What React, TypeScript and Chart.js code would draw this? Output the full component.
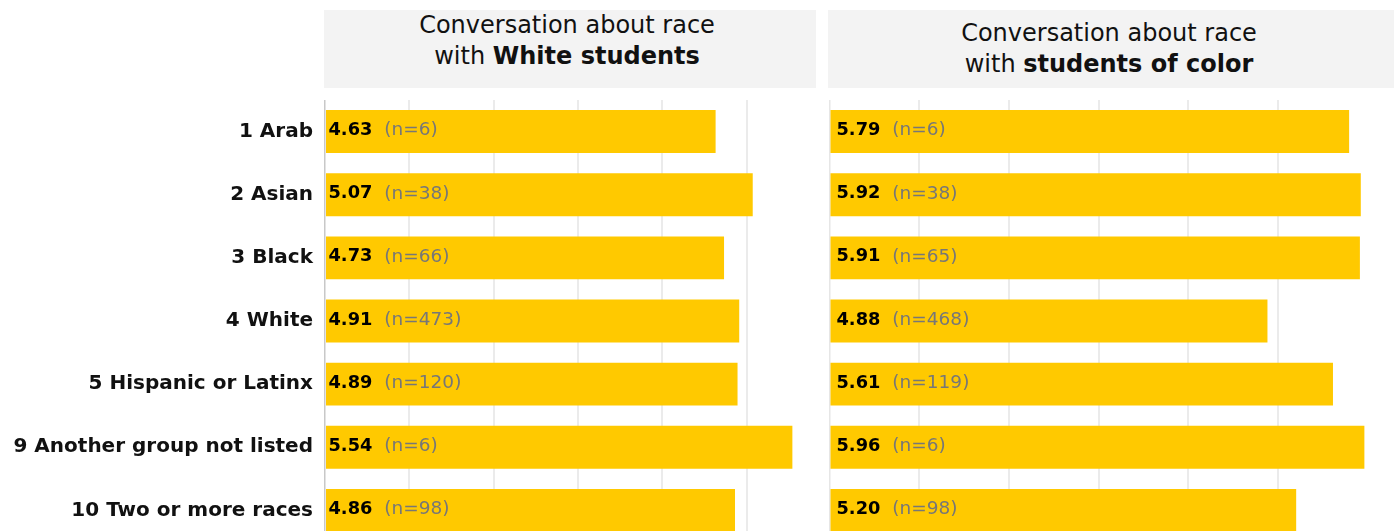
import React, { useEffect, useRef } from 'react';
import { Chart, registerables } from 'chart.js';

Chart.register(...registerables);

const categories = [
  '1 Arab',
  '2 Asian',
  '3 Black',
  '4 White',
  '5 Hispanic or Latinx',
  '9 Another group not listed',
  '10 Two or more races',
];
const whiteValues = [4.63, 5.07, 4.73, 4.91, 4.89, 5.54, 4.86];
const whiteCounts = [6, 38, 66, 473, 120, 6, 98];
const colorValues = [5.79, 5.92, 5.91, 4.88, 5.61, 5.96, 5.2];
const colorCounts = [6, 38, 65, 468, 119, 6, 98];
const leftAxisMax = 5.82;
const rightAxisMax = 6.29;

const FONT = '"DejaVu Sans", Verdana, sans-serif';
const BAR_COLOR = '#FFC900';

function labelPlugin(counts: number[], padLeft: number) {
  return {
    id: 'valueLabels',
    afterDatasetsDraw(chart: any) {
      const ctx = chart.ctx;
      const meta = chart.getDatasetMeta(0);
      const data = chart.data.datasets[0].data as number[];
      ctx.save();
      ctx.textBaseline = 'middle';
      ctx.textAlign = 'left';
      meta.data.forEach((el: any, i: number) => {
        const x = chart.chartArea.left + padLeft;
        const y = el.y - 1;
        const s = data[i].toFixed(2);
        ctx.font = `bold 17.8px ${FONT}`;
        ctx.fillStyle = '#000';
        ctx.fillText(s, x, y);
        const w = ctx.measureText(s).width;
        ctx.font = `18.5px ${FONT}`;
        ctx.fillStyle = '#777';
        ctx.fillText(`(n=${counts[i]})`, x + w + 12, y);
      });
      ctx.restore();
    },
  };
}

function buildConfig(
  values: number[],
  counts: number[],
  max: number,
  showLabels: boolean,
  axisWidth: number,
  axisDash: number[],
  axisColor: string,
  padLeft: number
): any {
  return {
    type: 'bar',
    data: {
      labels: categories,
      datasets: [
        {
          data: values,
          backgroundColor: BAR_COLOR,
          borderWidth: 0,
          barPercentage: 0.68,
          categoryPercentage: 1,
        },
      ],
    },
    options: {
      indexAxis: 'y',
      responsive: false,
      maintainAspectRatio: false,
      animation: false,
      layout: { padding: 0 },
      plugins: {
        legend: { display: false },
        tooltip: { enabled: false },
        title: { display: false },
      },
      scales: {
        x: {
          min: 0,
          max,
          ticks: { display: false, stepSize: 1 },
          grid: {
            color: (c: any) =>
              c.tick && c.tick.value === 0 ? 'rgba(0,0,0,0)' : '#ebebeb',
            lineWidth: 2,
            drawTicks: false,
          },
          border: { display: false },
          afterBuildTicks: (s: any) => {
            s.ticks = s.ticks.filter((t: any) => Number.isInteger(t.value));
          },
          afterFit: (s: any) => {
            s.height = 0;
            s.paddingLeft = 0;
            s.paddingRight = 0;
            s.paddingTop = 0;
            s.paddingBottom = 0;
          },
        },
        y: {
          ticks: {
            display: showLabels,
            color: '#111',
            padding: 12,
            font: { family: FONT, size: 20, weight: 'bold' },
          },
          grid: { display: false, drawTicks: false },
          border: { display: true, color: axisColor, dash: axisDash, width: 1.5 },
          afterFit: (s: any) => {
            s.width = axisWidth;
            s.paddingLeft = 0;
            s.paddingRight = 0;
            s.paddingTop = 0;
            s.paddingBottom = 0;
          },
        },
      },
    },
    plugins: [labelPlugin(counts, padLeft)],
  };
}

function Panel(props: { style: React.CSSProperties; width: number; height: number; config: () => any }) {
  const ref = useRef<HTMLCanvasElement | null>(null);
  useEffect(() => {
    if (!ref.current) return;
    const chart = new Chart(ref.current, props.config());
    return () => chart.destroy();
  }, []);
  return (
    <canvas
      ref={ref}
      width={props.width}
      height={props.height}
      style={{ position: 'absolute', width: props.width, height: props.height, ...props.style }}
    />
  );
}

const headerBase: React.CSSProperties = {
  position: 'absolute',
  top: 10,
  height: 78,
  background: '#f3f3f3',
  color: '#111',
  fontFamily: FONT,
  fontSize: 24,
  lineHeight: '31px',
  textAlign: 'center',
  boxSizing: 'border-box',
};

export default function App() {
  return (
    <div
      style={{
        position: 'absolute',
        left: 0,
        top: 0,
        width: 1394,
        height: 531,
        overflow: 'hidden',
        background: '#fff',
      }}
    >
      <div style={{ ...headerBase, left: 324, width: 492, paddingTop: 0, paddingRight: 6 }}>
        Conversation about race
        <br />
        with <b>White students</b>
      </div>
      <div style={{ ...headerBase, left: 828, width: 566, paddingTop: 8, paddingRight: 4 }}>
        Conversation about race
        <br />
        with <b>students of color</b>
      </div>
      <Panel
        style={{ left: 0, top: 100 }}
        width={816}
        height={442}
        config={() =>
          buildConfig(whiteValues, whiteCounts, leftAxisMax, true, 325, [2, 2], '#c8c8c8', 3.5)
        }
      />
      <Panel
        style={{ left: 828, top: 100 }}
        width={566}
        height={442}
        config={() =>
          buildConfig(colorValues, colorCounts, rightAxisMax, false, 1.5, [], '#e6e6e6', 7)
        }
      />
    </div>
  );
}
